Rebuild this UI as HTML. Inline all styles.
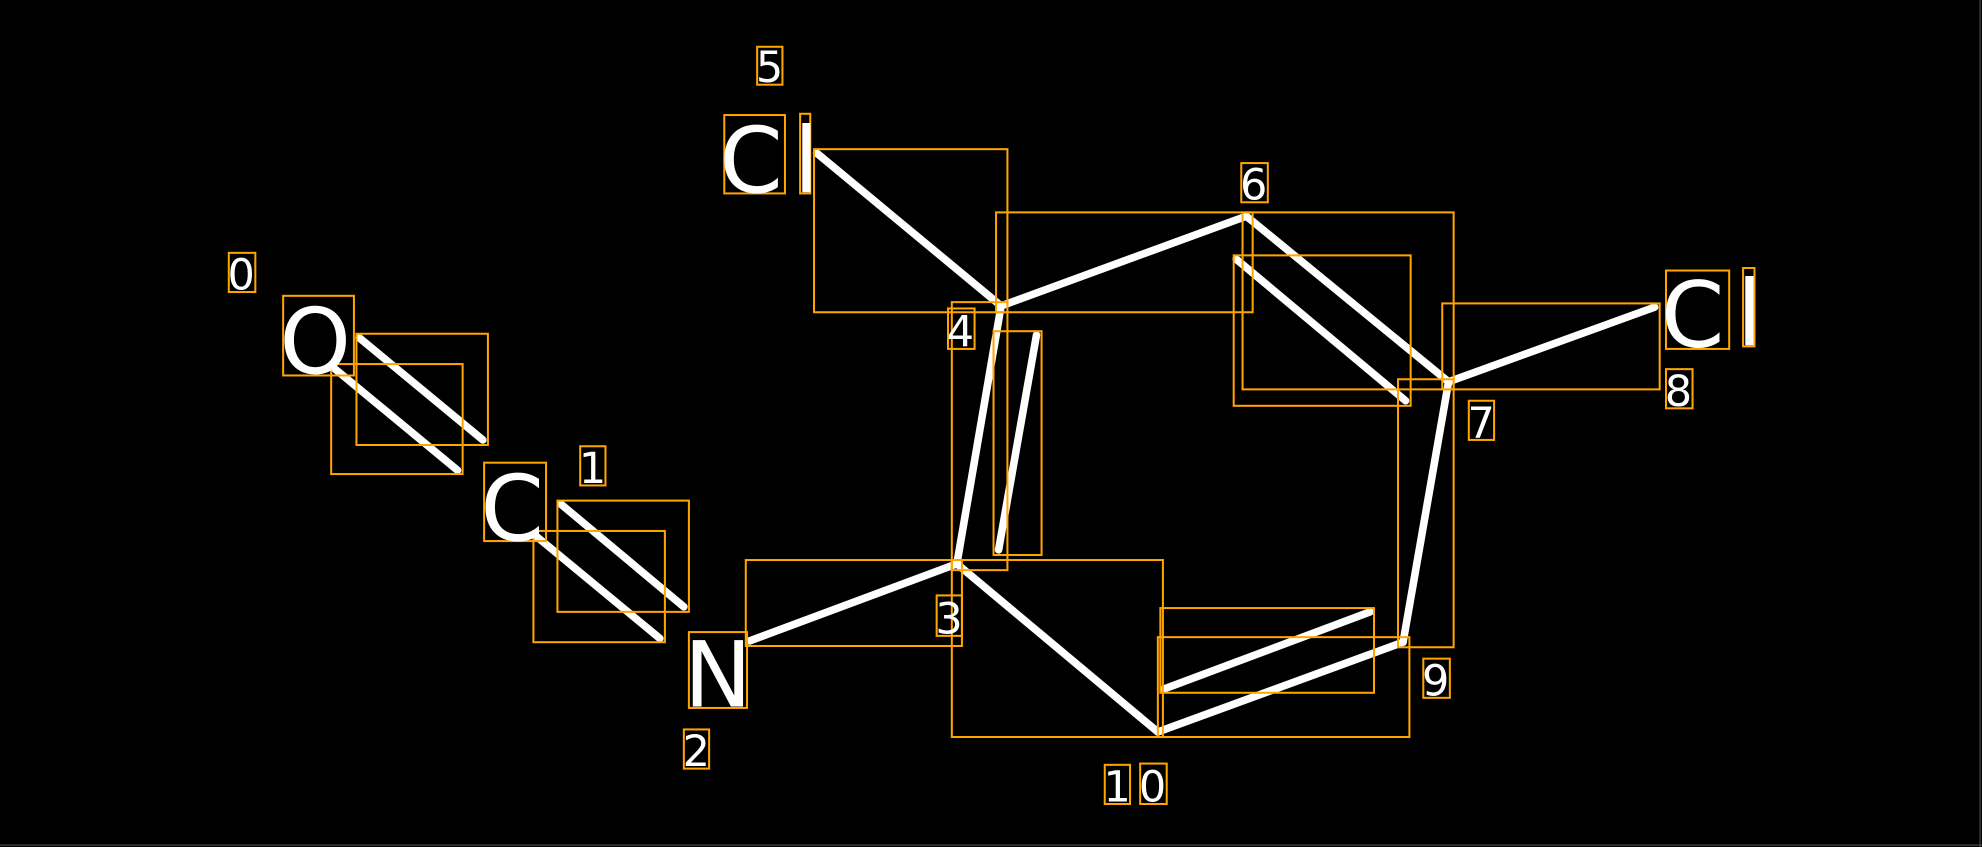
<!DOCTYPE html>
<html><head><meta charset="utf-8"><style>
html,body{margin:0;padding:0;background:#000;}
svg{display:block;}
text{font-family:"DejaVu Sans","Liberation Sans",sans-serif;fill:#fff;}
</style></head><body>
<svg width="1982" height="847" viewBox="0 0 1568 670" preserveAspectRatio="none" xmlns="http://www.w3.org/2000/svg">
<rect x="0" y="0" width="1568" height="670" fill="#000"/>
<line x1="1566.5" y1="0" x2="1566.5" y2="670" stroke="#444" stroke-width="1"/>
<line x1="0" y1="668.5" x2="1568" y2="668.5" stroke="#444" stroke-width="1"/>
<g stroke="#fff" stroke-width="6" stroke-linecap="round">
<line x1="284" y1="267" x2="382" y2="348"/>
<line x1="264" y1="291" x2="362" y2="372"/>
<line x1="444" y1="399" x2="541" y2="480"/>
<line x1="424" y1="424" x2="522" y2="505"/>
<line x1="593" y1="507" x2="757" y2="446"/>
<line x1="757" y1="446" x2="792" y2="242"/>
<line x1="790" y1="435" x2="820" y2="265"/>
<line x1="646" y1="121" x2="792" y2="242"/>
<line x1="792" y1="242" x2="986" y2="171"/>
<line x1="986" y1="171" x2="1146" y2="302"/>
<line x1="978" y1="205" x2="1112" y2="317"/>
<line x1="1146" y1="302" x2="1309" y2="243"/>
<line x1="1146" y1="302" x2="1110" y2="508"/>
<line x1="1110" y1="508" x2="916" y2="579"/>
<line x1="921" y1="545" x2="1084" y2="484"/>
<line x1="916" y1="579" x2="757" y2="446"/>
</g>
<g fill="none" stroke="#ffa500" stroke-width="1.6">
<rect x="282" y="264" width="104" height="88"/>
<rect x="262" y="288" width="104" height="87"/>
<rect x="441" y="396" width="104" height="88"/>
<rect x="422" y="420" width="104" height="88"/>
<rect x="590" y="443" width="171" height="68"/>
<rect x="753" y="239" width="44" height="212"/>
<rect x="786" y="262" width="38" height="177"/>
<rect x="644" y="118" width="153" height="129"/>
<rect x="788" y="168" width="203" height="79"/>
<rect x="983" y="168" width="167" height="140"/>
<rect x="976" y="202" width="140" height="119"/>
<rect x="1141" y="240" width="172" height="68"/>
<rect x="1106" y="300" width="44" height="212"/>
<rect x="916" y="504" width="199" height="79"/>
<rect x="918" y="481" width="169" height="67"/>
<rect x="753" y="443" width="167" height="140"/>
<rect x="224" y="234" width="56" height="63"/>
<rect x="383" y="366" width="49" height="62"/>
<rect x="545" y="500" width="46" height="60"/>
<rect x="573" y="91" width="48" height="62"/>
<rect x="633" y="90" width="8" height="63"/>
<rect x="1318" y="214" width="50" height="62"/>
<rect x="1379" y="212" width="9" height="62"/>
<rect x="181" y="200" width="21" height="31"/>
<rect x="459" y="353" width="20" height="31"/>
<rect x="541" y="577" width="20" height="31"/>
<rect x="741" y="471" width="20" height="32"/>
<rect x="750" y="244" width="21" height="32"/>
<rect x="599" y="37" width="20" height="30"/>
<rect x="982" y="129" width="21" height="31"/>
<rect x="1162" y="317" width="20" height="31"/>
<rect x="1318" y="292" width="21" height="31"/>
<rect x="1126" y="521" width="21" height="31"/>
<rect x="874" y="605" width="20" height="31"/>
<rect x="902" y="604" width="21" height="32"/>
</g>
<g font-size="72">
<text x="221" y="295">O</text>
<text x="380" y="427">C</text>
<text x="541" y="559">N</text>
<text x="569" y="152">C</text>
<text x="628" y="152">l</text>
<text x="1314" y="274">C</text>
<text x="1374" y="273">l</text>
</g>
<g font-size="34">
<text x="180" y="229">0</text>
<text x="458" y="382">1</text>
<text x="540" y="606">2</text>
<text x="740" y="501">3</text>
<text x="749" y="274">4</text>
<text x="598" y="65">5</text>
<text x="981" y="158">6</text>
<text x="1161" y="346">7</text>
<text x="1317" y="321">8</text>
<text x="1125" y="550">9</text>
<text x="873" y="634">1</text>
<text x="901" y="634">0</text>
</g>
</svg>
</body></html>
